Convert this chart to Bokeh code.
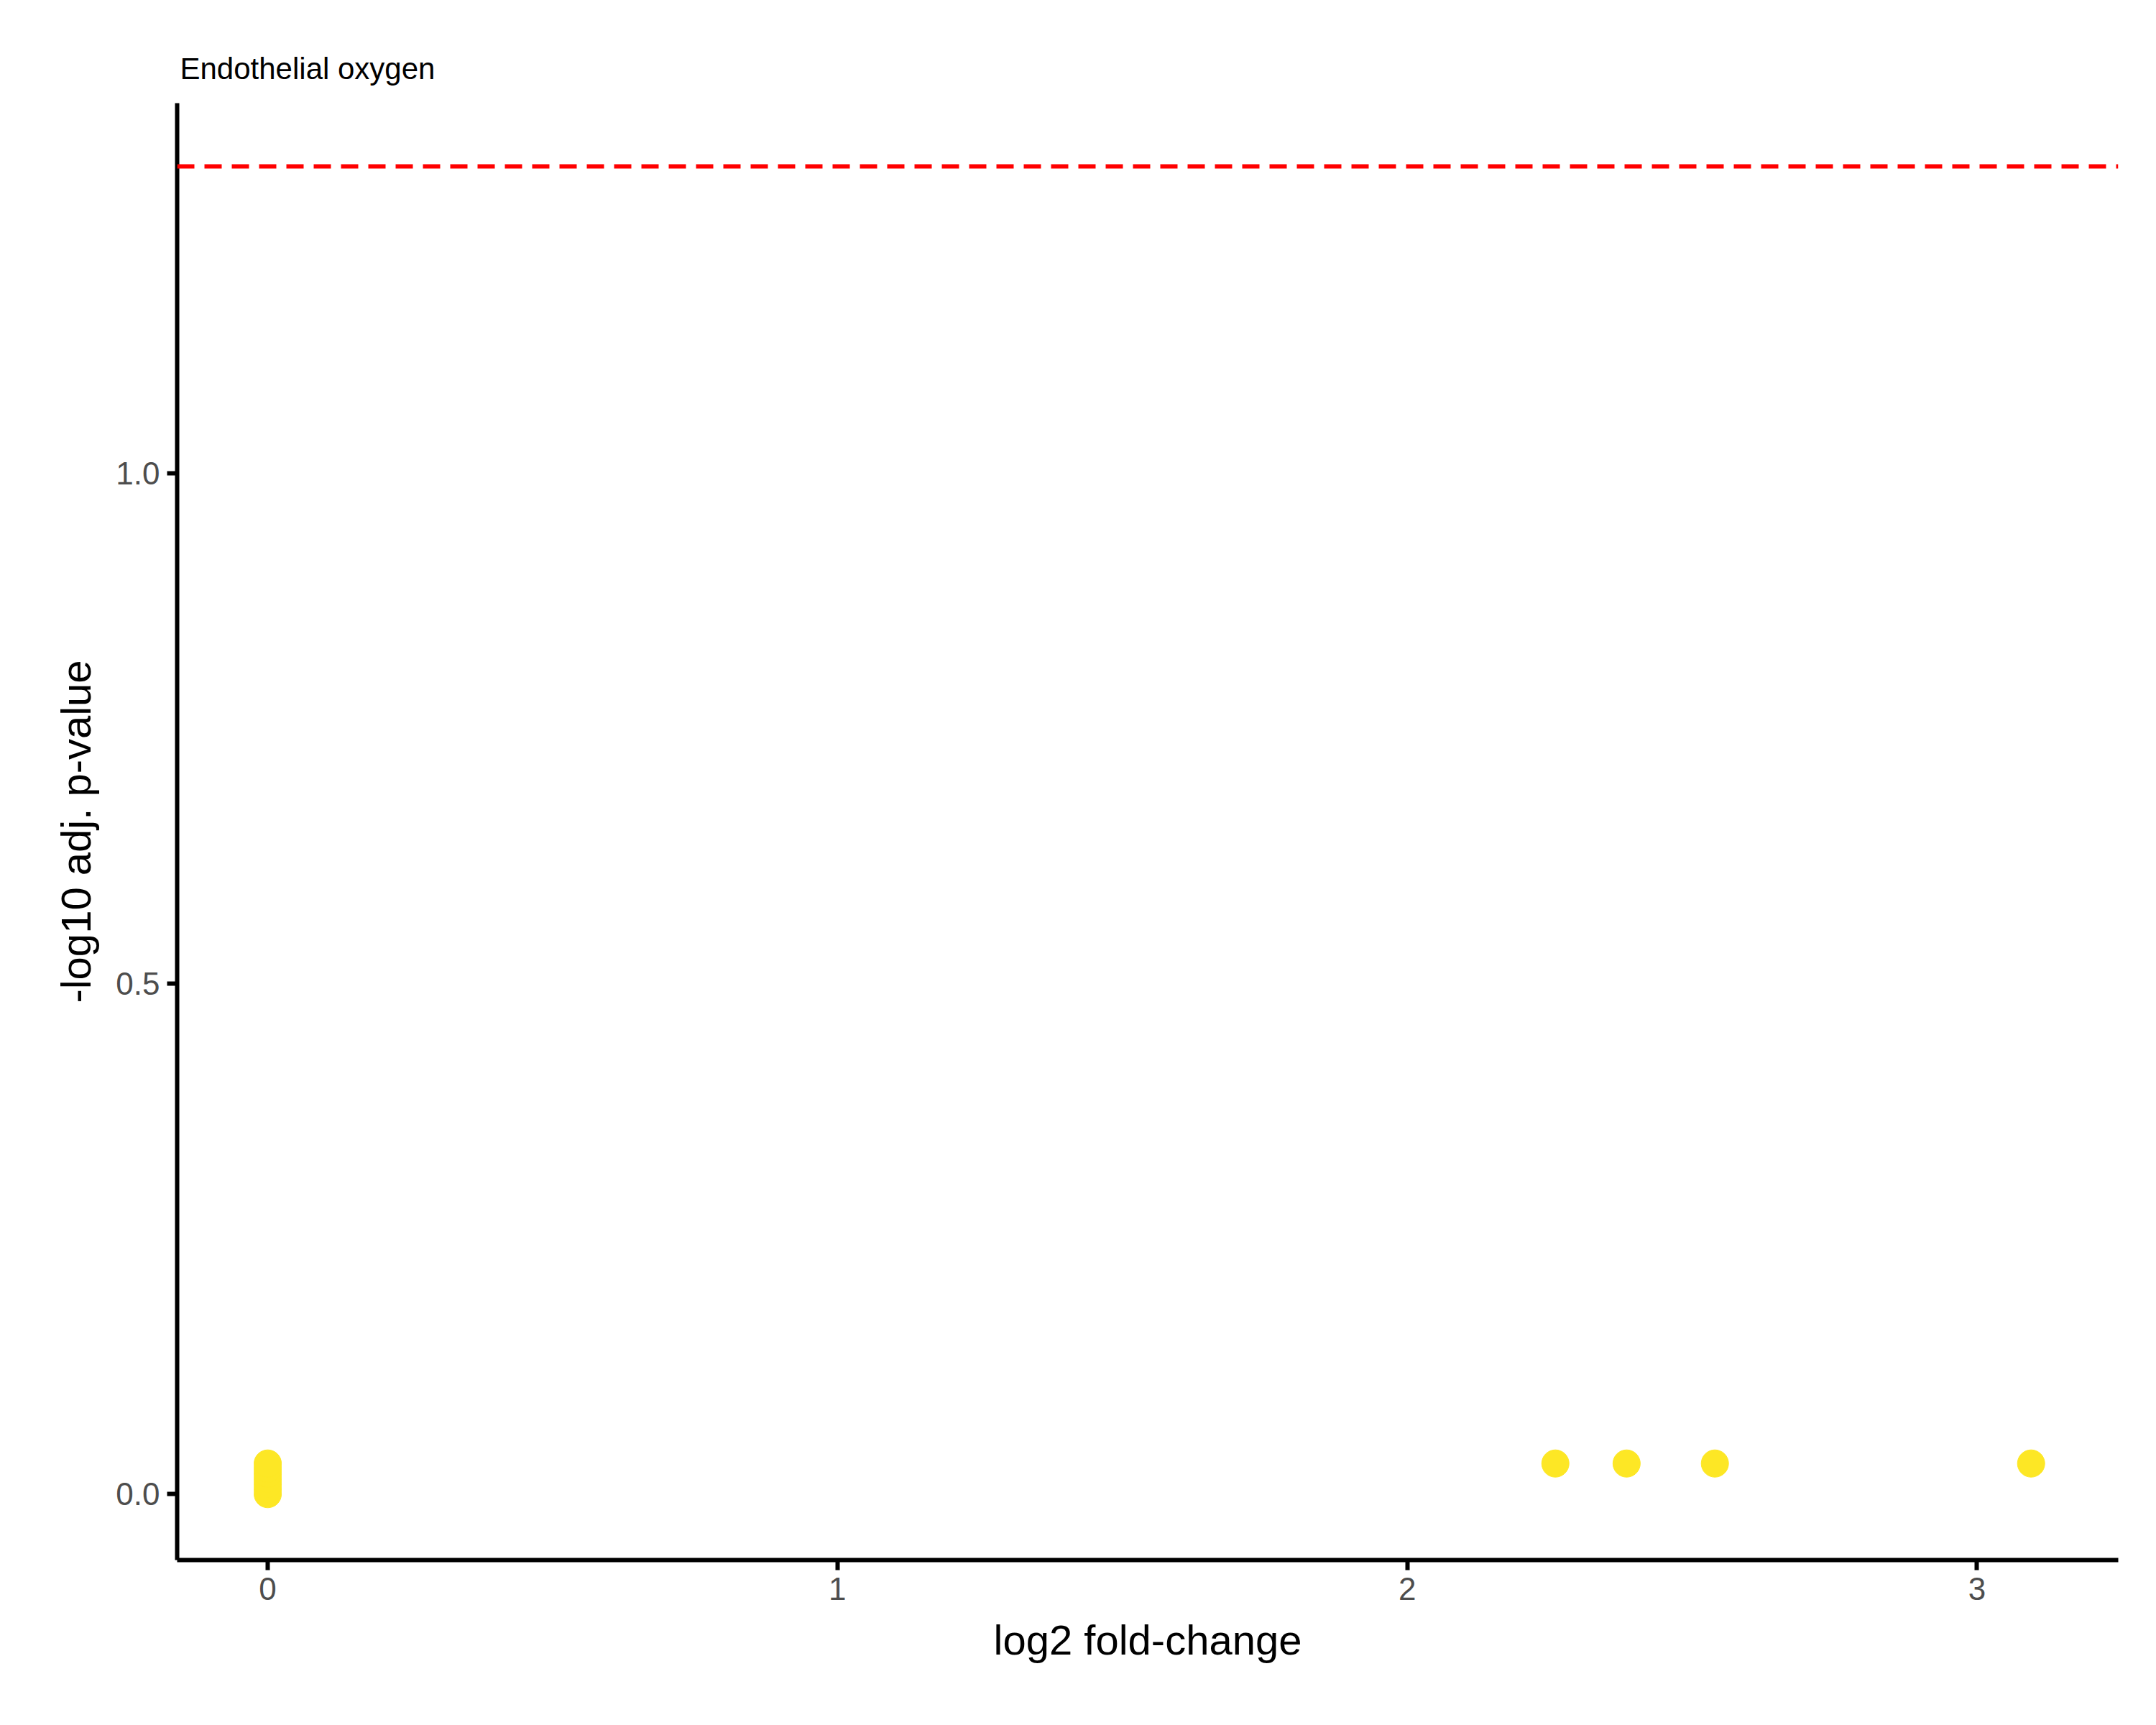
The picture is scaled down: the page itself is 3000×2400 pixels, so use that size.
from bokeh.plotting import figure
from bokeh.models import Span, Range1d, FixedTicker
from bokeh.embed import file_html
from bokeh.resources import INLINE

# log2 fold-change and -log10 adj. p-value
fold_change = [0, 0, 0, 0, 0, 0, 0, 2.26, 2.385, 2.54, 3.095]
neg_log_p = [0.0, 0.005, 0.01, 0.015, 0.02, 0.025, 0.03, 0.03, 0.03, 0.03, 0.03]
threshold = 1.301
x_ticks = [0, 1, 2, 3]
y_ticks = [0.0, 0.5, 1.0]

p = figure(width=2980, height=2380, output_backend="svg", toolbar_location=None,
           x_range=Range1d(-0.159, 3.248), y_range=Range1d(-0.0646, 1.363),
           title="Endothelial oxygen")
p.min_border_left = 246
p.min_border_right = 33
p.min_border_top = 143
p.min_border_bottom = 210

p.title.text_font = "Liberation Sans"
p.title.text_font_size = "42px"
p.title.text_font_style = "normal"
p.title.text_color = "black"
p.title.offset = 4
p.title.standoff = 50

p.xgrid.visible = False
p.ygrid.visible = False
p.outline_line_color = None

p.scatter(fold_change, neg_log_p, size=38, color="#FDE725")
p.add_layout(Span(location=threshold, dimension="width", line_color="red",
                  line_width=6, line_dash="24 14"))

for ax in (p.xaxis[0], p.yaxis[0]):
    ax.axis_line_width = 6
    ax.major_tick_line_width = 6
    ax.major_tick_in = 0
    ax.major_tick_out = 14
    ax.minor_tick_line_color = None
    ax.major_label_text_font = "Liberation Sans"
    ax.major_label_text_font_size = "44px"
    ax.major_label_text_color = "#4d4d4d"
    ax.major_label_standoff = 10
    ax.axis_label_text_font = "Liberation Sans"
    ax.axis_label_text_font_size = "58px"
    ax.axis_label_text_font_style = "normal"
    ax.axis_label_text_color = "black"

p.xaxis.axis_label_standoff = 20
p.yaxis.axis_label_standoff = 20
p.xaxis.ticker = FixedTicker(ticks=x_ticks)
p.yaxis.ticker = FixedTicker(ticks=y_ticks)
p.yaxis.major_label_overrides = {0: "0.0", 0.5: "0.5", 1: "1.0"}
p.xaxis.axis_label = "log2 fold-change"
p.yaxis.axis_label = "-log10 adj. p-value"

open("out.html", "w").write(file_html(p, INLINE))
